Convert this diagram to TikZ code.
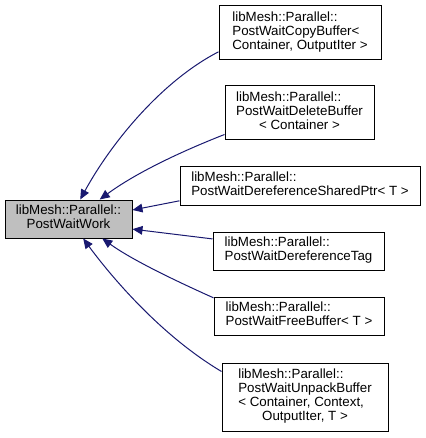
\documentclass[tikz,border=0pt]{standalone}
\usepackage{fontspec}
\setmainfont{Liberation Sans}
\usetikzlibrary{arrows.meta}
\definecolor{edgeblue}{HTML}{191970}
\definecolor{basegray}{HTML}{BFBFBF}

% class label: upper lines flush left, last line centred
\newcommand{\clsname}[2]{\begin{tabular}{@{}l@{}}#1\\\multicolumn{1}{@{}c@{}}{#2}\end{tabular}}

\begin{document}
\begin{tikzpicture}[x=0.75pt, y=-0.75pt, >={Triangle[length=7.5pt, width=6.5pt]},
  classbox/.style 2 args={
    draw=black, line width=0.75pt, fill=white, inner sep=0pt,
    minimum width=#1*0.75pt, minimum height=#2*0.75pt,
    font=\fontsize{10pt}{10.4pt}\selectfont
  },
  inherit/.style={edgeblue, line width=0.75pt, ->}]

\useasboundingbox (0,0) rectangle (425,438);

% --- Base class ---
\node[classbox={127}{38}, fill=basegray] (work) at (68.5,219)
  {\clsname{libMesh::Parallel::}{PostWaitWork}};

% --- Derived classes ---
\node[classbox={162}{54}] (copybuf) at (300,33)
  {\clsname{libMesh::Parallel::\\PostWaitCopyBuffer<}{ Container, OutputIter >}};
\node[classbox={149}{54}] (deletebuf) at (299.5,113)
  {\clsname{libMesh::Parallel::\\PostWaitDeleteBuffer}{< Container >}};
\node[classbox={240}{38}] (sharedptr) at (300,186)
  {\clsname{libMesh::Parallel::}{PostWaitDereferenceSharedPtr< T >}};
\node[classbox={171}{38}] (dereftag) at (298.5,251)
  {\clsname{libMesh::Parallel::}{PostWaitDereferenceTag}};
\node[classbox={170}{38}] (freebuf) at (299,316)
  {\clsname{libMesh::Parallel::}{PostWaitFreeBuffer< T >}};
\node[classbox={166}{68}] (unpackbuf) at (305,397)
  {\clsname{libMesh::Parallel::\\PostWaitUnpackBuffer\\< Container, Context,}{OutputIter, T >}};

% --- Inheritance edges ---
\draw[inherit] (copybuf.193) .. controls (160,82) and (110,145) .. (work.59);
\draw[inherit] (deletebuf.196.5) .. controls (190,148) and (140,170) .. (work.32);
\draw[inherit] (sharedptr.187.6) -- (work.8.9);
\draw[inherit] (dereftag.172.7) -- (work.351.1);
\draw[inherit] (freebuf.168) .. controls (185,285) and (135,262) .. (work.330.4);
\draw[inherit] (unpackbuf.163.2) .. controls (160,335) and (110,275) .. (work.307.3);

\end{tikzpicture}
\end{document}
